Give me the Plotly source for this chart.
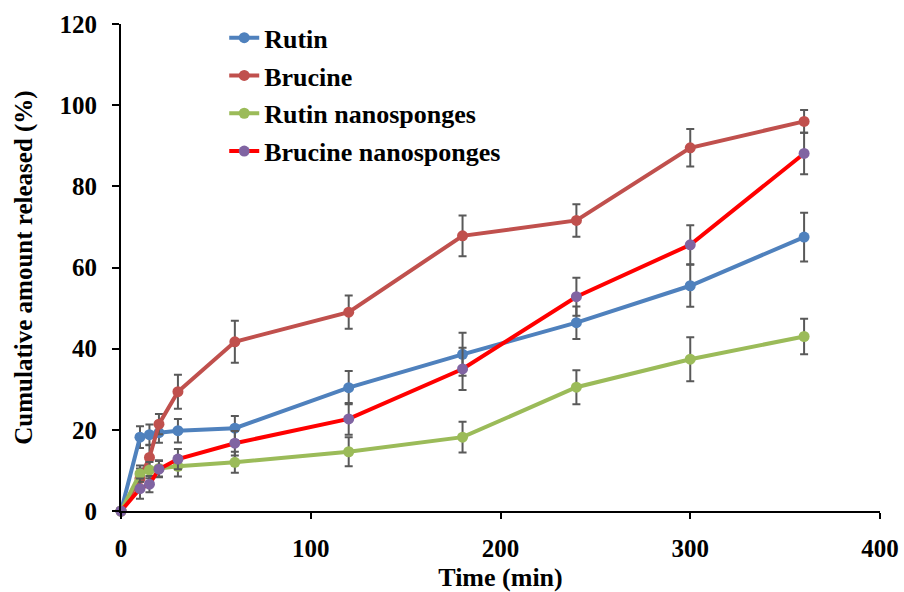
import plotly.graph_objects as go

# Data
time_min = [0, 10, 15, 20, 30, 60, 120, 180, 240, 300, 360]

rutin = [0, 18.2, 18.8, 19.3, 19.8, 20.4, 30.4, 38.6, 46.4, 55.5, 67.5]
rutin_err = [0, 2.7, 2.5, 2.5, 2.9, 3.0, 4.1, 5.3, 4.0, 5.2, 6.0]

brucine = [0, 8.0, 13.2, 21.4, 29.4, 41.7, 49.0, 67.8, 71.6, 89.5, 96.0]
brucine_err = [0, 2.5, 3.0, 2.5, 4.2, 5.2, 4.1, 5.0, 4.0, 4.6, 2.8]

rutin_ns = [0, 9.2, 10.1, 10.5, 11.0, 12.0, 14.6, 18.2, 30.5, 37.4, 43.0]
rutin_ns_err = [0, 2.0, 2.0, 2.0, 2.5, 2.6, 3.6, 3.8, 4.2, 5.4, 4.4]

brucine_ns = [0, 5.5, 6.6, 10.3, 12.8, 16.7, 22.7, 35.0, 52.8, 65.6, 88.1]
brucine_ns_err = [0, 2.5, 2.0, 2.0, 2.5, 3.0, 3.9, 5.2, 4.7, 4.8, 5.1]

x_ticks = [0, 100, 200, 300, 400]
y_ticks = [0, 20, 40, 60, 80, 100, 120]

series = [
    ("Rutin", rutin, rutin_err, "#4F81BD", "#4F81BD"),
    ("Brucine", brucine, brucine_err, "#C0504D", "#C0504D"),
    ("Rutin nanosponges", rutin_ns, rutin_ns_err, "#9BBB59", "#9BBB59"),
    ("Brucine nanosponges", brucine_ns, brucine_ns_err, "#FF0000", "#8064A2"),
]

FONT = "Liberation Serif, Times New Roman, serif"

fig = go.Figure()
for name, vals, errs, lc, mc in series:
    fig.add_trace(go.Scatter(
        x=time_min, y=vals, name=name, mode="lines+markers",
        line=dict(color=lc, width=4),
        marker=dict(color=mc, size=11),
        error_y=dict(type="data", array=errs, visible=True,
                     color="#595959", thickness=2, width=4),
        cliponaxis=False,
        legendgroup=name,
    ))

fig.update_layout(
    width=904, height=592,
    margin=dict(l=121, r=24, t=24, b=81),
    paper_bgcolor="white", plot_bgcolor="white",
    font=dict(family=FONT, size=24, color="black", weight="bold"),
    showlegend=True,
    legend=dict(x=0.136, y=1.02, xanchor="left", yanchor="top",
                bgcolor="rgba(0,0,0,0)", tracegroupgap=1,
                font=dict(family=FONT, size=26, color="black", weight="bold")),
    xaxis=dict(range=[0, 400], tickvals=x_ticks, showgrid=False, zeroline=False,
               showline=True, linecolor="black", linewidth=2, automargin=False,
               ticks="outside", ticklen=6, tickwidth=2, tickcolor="black",
               ticklabelstandoff=8,
               tickfont=dict(family=FONT, size=25, color="black", weight="bold"),
               title=dict(text="Time (min)", standoff=10,
                          font=dict(family=FONT, size=26, color="black", weight="bold"))),
    yaxis=dict(range=[0, 120], tickvals=y_ticks, showgrid=False, zeroline=False,
               showline=True, linecolor="black", linewidth=2, automargin=False,
               ticks="outside", ticklen=7, tickwidth=2, tickcolor="black",
               ticklabelstandoff=10,
               tickfont=dict(family=FONT, size=25, color="black", weight="bold"),
               title=dict(text="Cumulative amount released (%)", standoff=20,
                          font=dict(family=FONT, size=25, color="black", weight="bold"))),
)

fig.write_html("out.html")
